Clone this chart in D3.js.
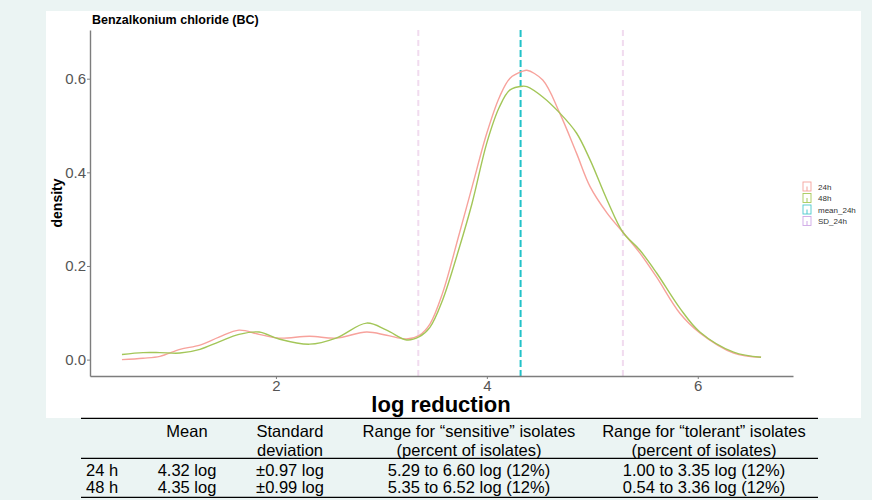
<!DOCTYPE html>
<html lang="en">
<head>
<meta charset="UTF-8">
<title>Benzalkonium chloride (BC)</title>
<script src="https://d3js.org/d3.v7.min.js"></script>
<style>
  body { margin: 0; background: #ebf4f3; }
  svg { display: block; font-family: "Liberation Sans", Arial, sans-serif; }
  .tick-label { fill: #555; font-size: 15px; }
  .tbl { font-size: 16.5px; fill: #000; }
</style>
</head>
<body>
<svg id="chart" width="872" height="500"></svg>
<script>
// log reduction grid (x) and density values
var logRed = [0.54, 0.74, 0.9, 1.09, 1.28, 1.46, 1.65, 1.84, 2.03, 2.32, 2.57, 2.86, 3.05, 3.24, 3.36, 3.46,
              3.58, 3.74, 3.86, 4.0, 4.12, 4.22, 4.34, 4.38, 4.53, 4.69, 4.85, 4.98, 5.14, 5.29, 5.45, 5.61,
              5.83, 6.02, 6.34, 6.6];
var dens24 = [0.000, 0.003, 0.007, 0.022, 0.031, 0.048, 0.063, 0.054, 0.046, 0.050, 0.046, 0.059, 0.052, 0.044, 0.052, 0.076,
              0.142, 0.270, 0.369, 0.484, 0.561, 0.601, 0.616, 0.618, 0.597, 0.527, 0.441, 0.369, 0.313, 0.272, 0.228, 0.176,
              0.099, 0.057, 0.014, 0.005];
var dens48 = [0.011, 0.015, 0.015, 0.014, 0.022, 0.038, 0.054, 0.059, 0.044, 0.033, 0.046, 0.078, 0.063, 0.042, 0.049, 0.069,
              0.127, 0.240, 0.334, 0.463, 0.540, 0.576, 0.584, 0.583, 0.561, 0.527, 0.484, 0.426, 0.341, 0.272, 0.234, 0.185,
              0.110, 0.059, 0.016, 0.005];
var meanLine = 4.32;
var sdLines = [3.35, 5.29];

var xTicks = [2, 4, 6];
var yTicks = [0.0, 0.2, 0.4, 0.6];
var legendLabels = ["24h", "48h", "mean_24h", "SD_24h"];
var legendColors = ["#f4a29c", "#a6c95a", "#4cc9cd", "#cfa8e6"];

var tableHead1 = ["", "Mean", "Standard", "Range for \u201csensitive\u201d isolates", "Range for \u201ctolerant\u201d isolates"];
var tableHead2 = ["", "", "deviation", "(percent of isolates)", "(percent of isolates)"];
var tableRows = [
  ["24 h", "4.32 log", "\u00b10.97 log", "5.29 to 6.60 log (12%)", "1.00 to 3.35 log (12%)"],
  ["48 h", "4.35 log", "\u00b10.99 log", "5.35 to 6.52 log (12%)", "0.54 to 3.36 log (12%)"]
];

var svg = d3.select("#chart");

// white panel behind the plot
svg.append("rect")
   .attr("x", 46).attr("y", 11)
   .attr("width", 815).attr("height", 407)
   .attr("fill", "#fff");

var plotL = 90, plotR = 793, plotT = 30, plotB = 376;

// ggplot style 5% expansion on x
var xMin = d3.min(logRed), xMax = d3.max(logRed), span = xMax - xMin;
var x = d3.scaleLinear()
          .domain([xMin - 0.05 * span, xMax + 0.05 * span])
          .range([plotL, plotR]);
var y = d3.scaleLinear()
          .domain([-0.035, 0.704])
          .range([plotB, plotT]);

// dashed vertical lines
svg.selectAll(".sd")
   .data(sdLines)
   .enter().append("line")
   .attr("x1", function(d) { return x(d); })
   .attr("x2", function(d) { return x(d); })
   .attr("y1", plotT).attr("y2", plotB)
   .attr("stroke", "#f1dbef")
   .attr("stroke-width", 2)
   .attr("stroke-dasharray", "6,4");

svg.append("line")
   .attr("x1", x(meanLine)).attr("x2", x(meanLine))
   .attr("y1", plotT).attr("y2", plotB)
   .attr("stroke", "#22c2c8")
   .attr("stroke-width", 2)
   .attr("stroke-dasharray", "7,3");

// density curves
var line = d3.line()
             .x(function(d) { return x(d[0]); })
             .y(function(d) { return y(d[1]); })
             .curve(d3.curveCatmullRom.alpha(0.5));

svg.append("path")
   .datum(d3.zip(logRed, dens24))
   .attr("d", line)
   .attr("fill", "none")
   .attr("stroke", "#f7a29c")
   .attr("stroke-width", 1.4);

svg.append("path")
   .datum(d3.zip(logRed, dens48))
   .attr("d", line)
   .attr("fill", "none")
   .attr("stroke", "#a3c658")
   .attr("stroke-width", 1.4);

// axes
var xAxis = svg.append("g")
   .attr("transform", "translate(0," + plotB + ")")
   .call(d3.axisBottom(x).tickValues(xTicks).tickFormat(d3.format("d")).tickSize(3).tickSizeOuter(0));
var yAxis = svg.append("g")
   .attr("transform", "translate(" + plotL + ",0)")
   .call(d3.axisLeft(y).tickValues(yTicks).tickFormat(d3.format(".1f")).tickSize(3).tickSizeOuter(0));

[xAxis, yAxis].forEach(function(g) {
  g.select(".domain").attr("stroke", "#7d7d7d").attr("stroke-width", 1.4);
  g.selectAll(".tick line").attr("stroke", "#7d7d7d");
  g.selectAll(".tick text").attr("class", "tick-label").attr("font-size", null).attr("font-family", null);
});
xAxis.selectAll(".tick text").attr("dy", "0.71em").attr("y", 4);
yAxis.selectAll(".tick text").attr("x", -4);

// titles
svg.append("text")
   .attr("x", 92).attr("y", 24)
   .attr("font-size", 12.5).attr("font-weight", "bold")
   .text("Benzalkonium chloride (BC)");

svg.append("text")
   .attr("transform", "translate(62,203) rotate(-90)")
   .attr("text-anchor", "middle")
   .attr("font-size", 14).attr("font-weight", "bold")
   .text("density");

svg.append("text")
   .attr("x", 441).attr("y", 412)
   .attr("text-anchor", "middle")
   .attr("font-size", 22).attr("font-weight", "bold")
   .text("log reduction");

// legend
var legend = svg.selectAll(".legend")
   .data(legendLabels)
   .enter().append("g")
   .attr("transform", function(d, i) { return "translate(803," + (182 + i * 11.5) + ")"; });

legend.append("rect")
   .attr("width", 8).attr("height", 9)
   .attr("fill", "#fff")
   .attr("stroke", function(d, i) { return legendColors[i]; })
   .attr("stroke-width", 0.9);
legend.append("line")
   .attr("x1", 4).attr("x2", 4).attr("y1", 4.5).attr("y2", 9)
   .attr("stroke", function(d, i) { return legendColors[i]; })
   .attr("stroke-width", 1);
legend.append("text")
   .attr("x", 15).attr("y", 7.5)
   .attr("font-size", 8).attr("fill", "#333")
   .text(function(d) { return d; });

// table below the chart
var colX = [86, 187, 290, 469, 704];
var anchors = ["start", "middle", "middle", "middle", "middle"];
var tblLeft = 81, tblRight = 818;

[418.3, 458.3, 497.3].forEach(function(yy) {
  svg.append("line")
     .attr("x1", tblLeft).attr("x2", tblRight)
     .attr("y1", yy).attr("y2", yy)
     .attr("stroke", "#000").attr("stroke-width", 1.3);
});

function tableRow(cells, yy) {
  svg.append("g").selectAll("text")
     .data(cells)
     .enter().append("text")
     .attr("class", "tbl")
     .attr("x", function(d, i) { return colX[i]; })
     .attr("y", yy)
     .attr("text-anchor", function(d, i) { return anchors[i]; })
     .attr("dy", "0.35em")
     .text(function(d) { return d; });
}
tableRow(tableHead1, 431.7);
tableRow(tableHead2, 450);
tableRows.forEach(function(r, i) { tableRow(r, 470.7 + i * 17); });
</script>
</body>
</html>
